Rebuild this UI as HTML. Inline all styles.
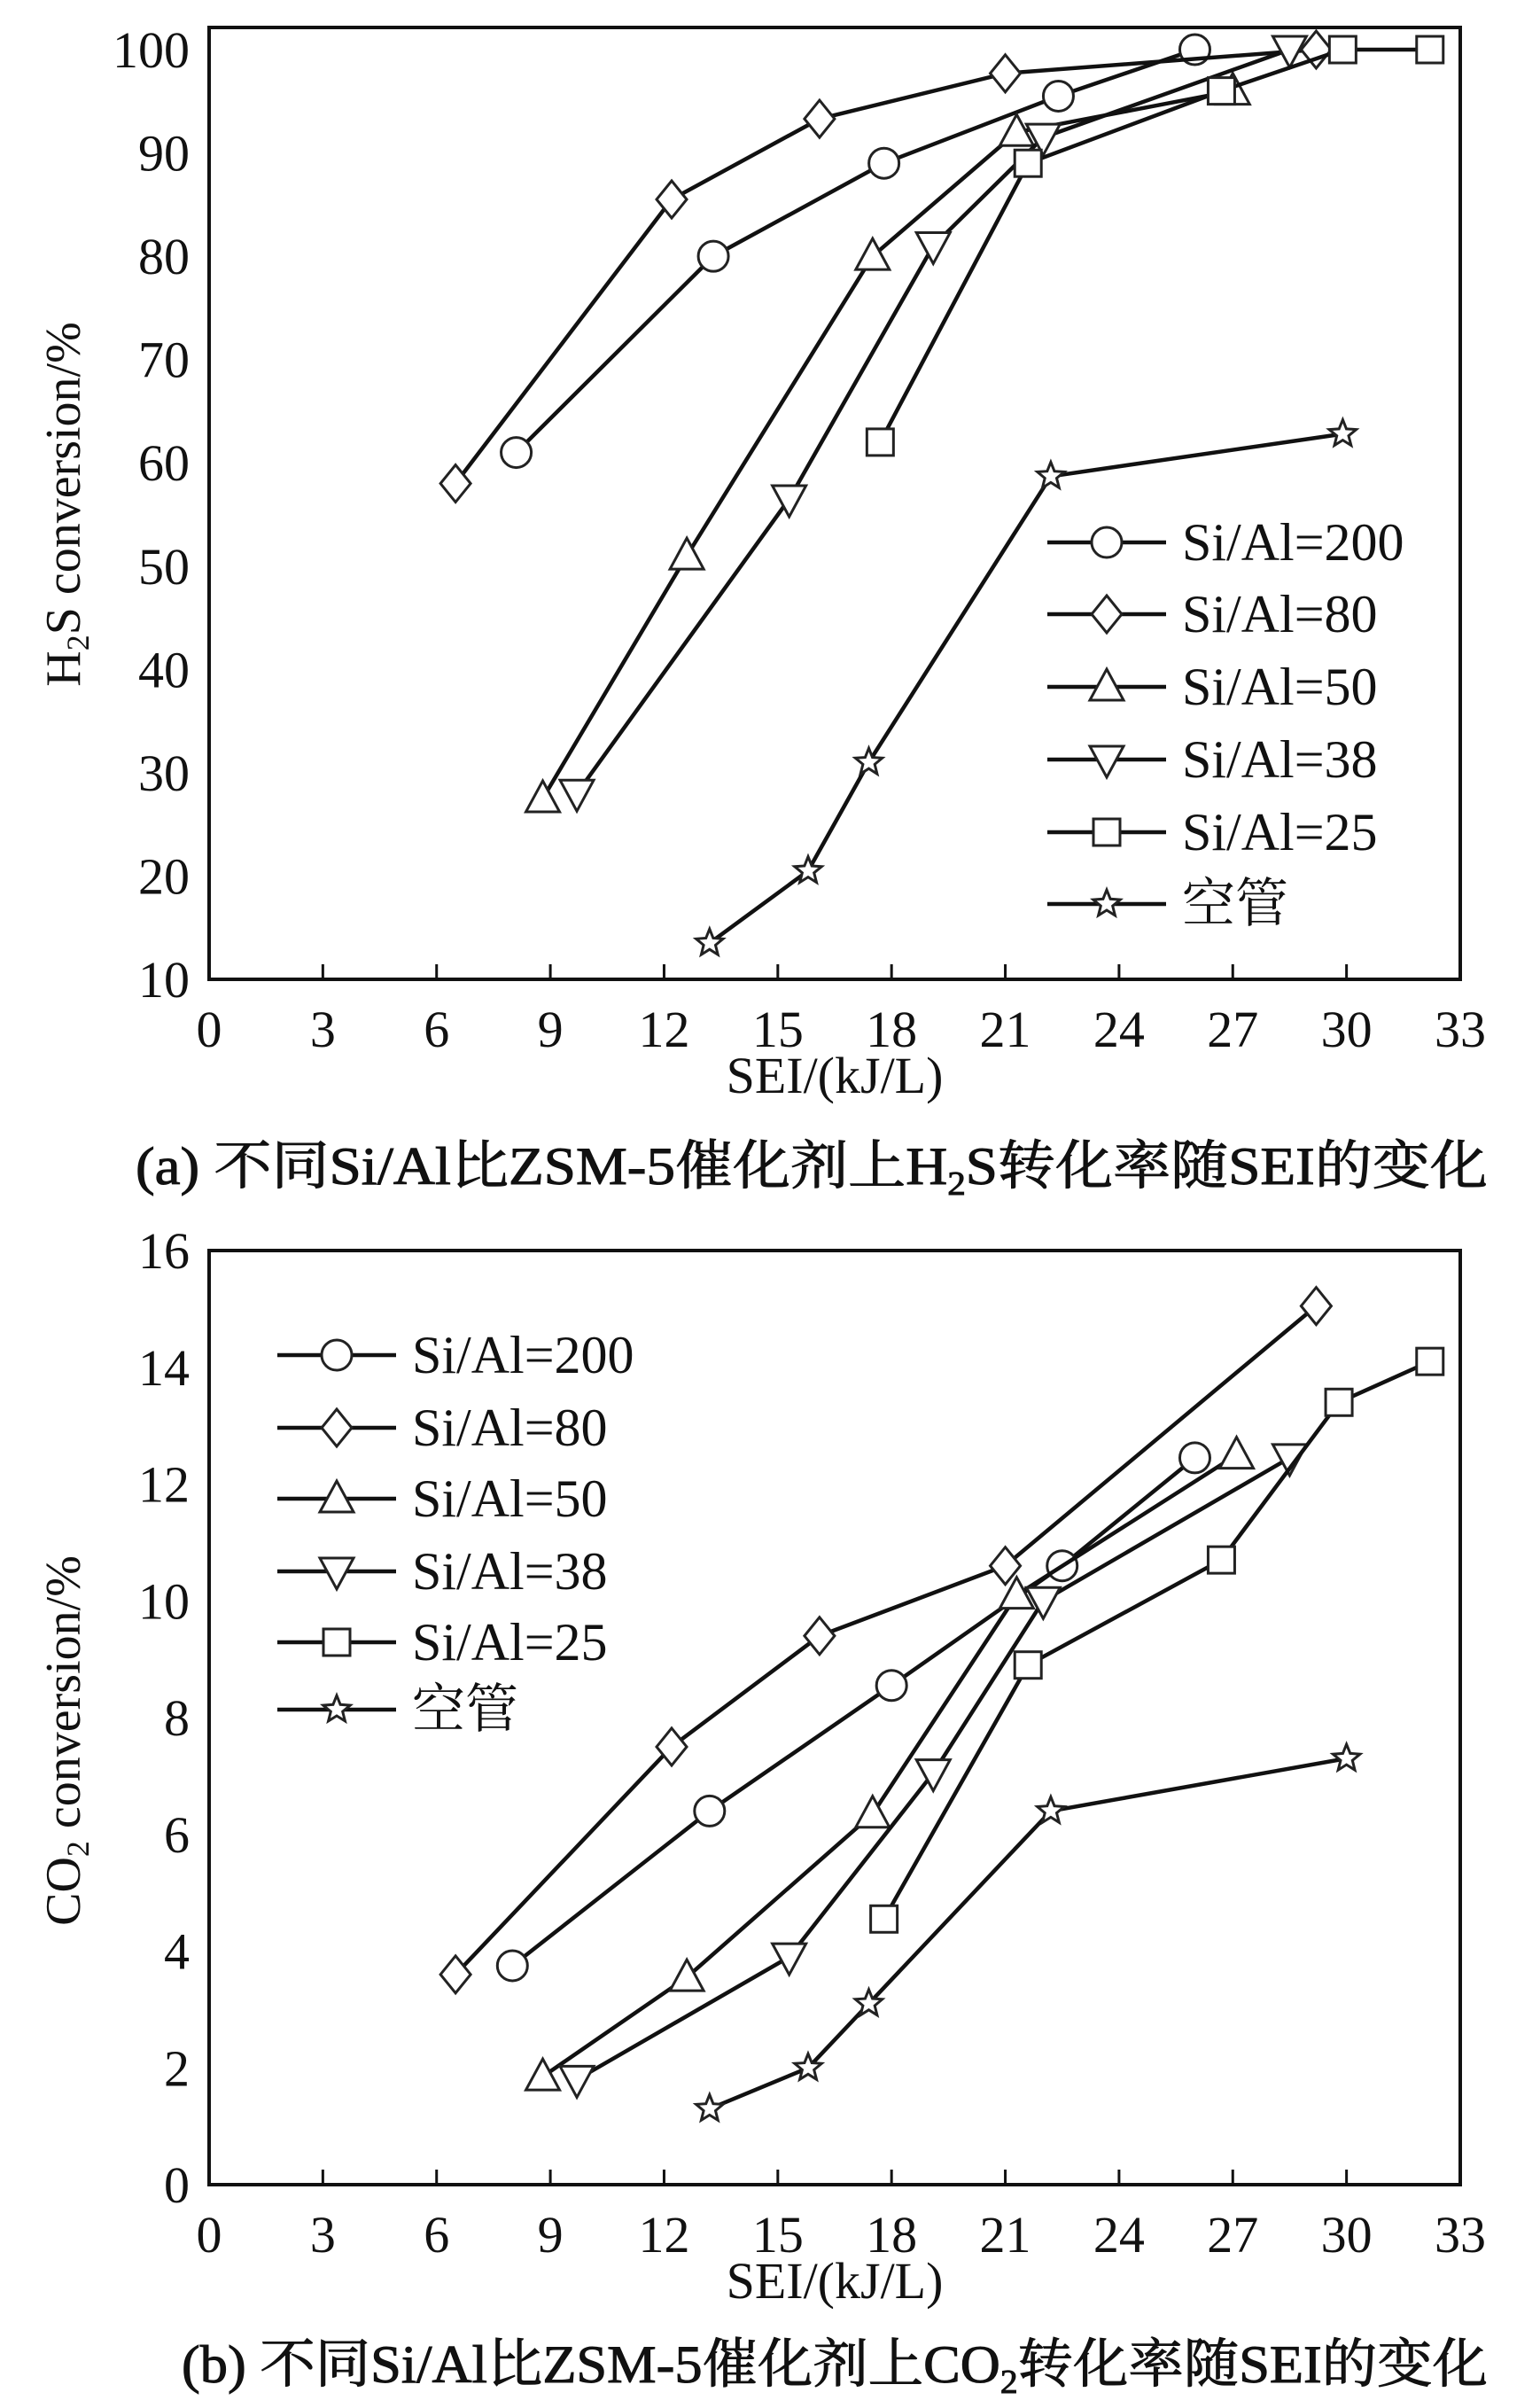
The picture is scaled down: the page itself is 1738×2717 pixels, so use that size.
<!DOCTYPE html>
<html><head><meta charset="utf-8"><style>
html,body{margin:0;padding:0;background:#fff}
svg{display:block}
text{font-family:"Liberation Serif","Times New Roman","Noto Serif CJK SC",serif;fill:#111}
</style></head><body>
<svg id="s" width="1738" height="2717" viewBox="0 0 1738 2717" font-family="'Liberation Serif','Noto Serif CJK SC',serif"></svg>
<script>
const xTicks=[0,3,6,9,12,15,18,21,24,27,30,33];
const yTicksA=[10,20,30,40,50,60,70,80,90,100];
const yTicksB=[2,4,6,8,10,12,14,16];
const seriesNames=["Si/Al=200","Si/Al=80","Si/Al=50","Si/Al=38","Si/Al=25","空管"];
const seriesMarkers=["circle","diamond","up","down","square","star"];
// chart a: H2S conversion
const a200x=[8.1,13.3,17.8,22.4,26],   a200y=[61,80,89,95.5,100];
const a80x=[6.5,12.2,16.1,21,29.2],    a80y=[58,85.5,93.3,97.7,100];
const a50x=[8.8,12.6,17.5,21.3,27],    a50y=[27.5,51,80,92,96];
const a38x=[9.7,15.3,19.1,22,28.5],    a38y=[28,56.5,81,91.5,100];
const a25x=[17.7,21.6,26.7,29.9,32.2], a25y=[62,89,96,100,100];
const aEx=[13.2,15.8,17.4,22.2,29.9],  aEy=[13.5,20.5,31,58.7,62.8];
// chart b: CO2 conversion
const b200x=[8,13.2,18,22.5,26],       b200y=[3.75,6.4,8.55,10.6,12.45];
const b80x=[6.5,12.2,16.1,21,29.2],    b80y=[3.6,7.5,9.4,10.6,15.05];
const b50x=[8.8,12.6,17.5,21.3,27.1],  b50y=[1.85,3.55,6.35,10.1,12.5];
const b38x=[9.7,15.3,19.1,22,28.5],    b38y=[1.8,3.9,7.05,10,12.45];
const b25x=[17.8,21.6,26.7,29.8,32.2], b25y=[4.55,8.9,10.7,13.4,14.1];
const bEx=[13.2,15.8,17.4,22.2,30],    bEy=[1.3,2,3.1,6.4,7.3];

const NS="http://www.w3.org/2000/svg";
const svg=document.getElementById('s');
function el(tag,attrs,parent,txt){const e=document.createElementNS(NS,tag);for(const k in attrs)e.setAttribute(k,attrs[k]);if(txt!=null)e.textContent=txt;(parent||svg).appendChild(e);return e;}

function marker(g,type,cx,cy){
  const r=17;let e;
  const st={fill:"#fff",stroke:"#222","stroke-width":3};
  if(type==="circle"){e=el('circle',Object.assign({cx:cx,cy:cy,r:r},st),g);}
  else if(type==="square"){e=el('rect',Object.assign({x:cx-15,y:cy-15,width:30,height:30},st),g);}
  else if(type==="diamond"){e=el('polygon',Object.assign({points:`${cx},${cy-21} ${cx+17},${cy} ${cx},${cy+21} ${cx-17},${cy}`},st),g);}
  else if(type==="up"){e=el('polygon',Object.assign({points:`${cx},${cy-20} ${cx+19},${cy+15} ${cx-19},${cy+15}`},st),g);}
  else if(type==="down"){e=el('polygon',Object.assign({points:`${cx},${cy+20} ${cx+19},${cy-15} ${cx-19},${cy-15}`},st),g);}
  else {let p=[];for(let i=0;i<10;i++){const a=-Math.PI/2+i*Math.PI/5;const rr=i%2?7:16;p.push((cx+rr*Math.cos(a)).toFixed(1)+","+(cy+rr*Math.sin(a)).toFixed(1));}
    e=el('polygon',Object.assign({points:p.join(" ")},st),g);}
  
  
  return e;
}

function chart(cfg){
  const g=el('g',{});
  
  
  const L=236,R=1648,T=cfg.top,B=cfg.bottom;
  const X=v=>L+(v-0)/33*(R-L);
  const Y=v=>B-(v-cfg.ymin)/(cfg.ymax-cfg.ymin)*(B-cfg.yTopVal);
  const frame=el('rect',{x:L,y:T,width:R-L,height:B-T,fill:"none",stroke:"#111","stroke-width":4},g);
  
  
  xTicks.forEach(v=>{
    const t=el('line',{x1:X(v),x2:X(v),y1:B,y2:B-17,stroke:"#111","stroke-width":3},g);
    
    
    const lb=el('text',{x:X(v),y:B+76,"font-size":58,"text-anchor":"middle"},g,String(v));
    
    
  });
  cfg.yticks.forEach(v=>{
    const lb=el('text',{x:214,y:Y(v)+20,"font-size":58,"text-anchor":"end"},g,String(v));
    
    
  });
  if(cfg.zeroLabel){const z=el('text',{x:214,y:B+20,"font-size":58,"text-anchor":"end"},g,"0");
    
    }
  const xt=el('text',{x:942,y:B+128,"font-size":58,"text-anchor":"middle"},g,"SEI/(kJ/L)");
  
  
  const yt=el('text',{x:0,y:0,"font-size":56,"text-anchor":"middle",transform:`translate(90,${cfg.ytitleY}) rotate(-90)`},g);
  
  
  el('tspan',{},yt,cfg.ytitle[0]);el('tspan',{"font-size":36,dy:10},yt,cfg.ytitle[1]);el('tspan',{dy:-10},yt,cfg.ytitle[2]);
  cfg.series.forEach((s,i)=>{
    const sg=el('g',{},g);
    
    
    const pts=s[0].map((x,j)=>X(x).toFixed(1)+","+Y(s[1][j]).toFixed(1)).join(" ");
    const pl=el('polyline',{points:pts,fill:"none",stroke:"#111","stroke-width":4.5},sg);
    
    
    s[0].forEach((x,j)=>marker(sg,seriesMarkers[i],X(x),Y(s[1][j])));
  });
  seriesNames.forEach((n,i)=>{
    const lg=el('g',{},g);
    
    
    const y=cfg.legY[i];
    el('line',{x1:cfg.legX,x2:cfg.legX+134,y1:y,y2:y,stroke:"#111","stroke-width":4.5},lg);
    marker(lg,seriesMarkers[i],cfg.legX+67,y);
    el('text',{x:cfg.legX+152,y:y+20,"font-size":60},lg,n);
  });
  const cap=el('text',{x:cfg.capX,y:cfg.capY,"font-size":60,textLength:cfg.capW,lengthAdjust:"spacingAndGlyphs",stroke:"#111","stroke-width":1},g);
  
  
  el('tspan',{},cap,cfg.cap[0]);el('tspan',{"font-size":38,dy:12},cap,cfg.cap[1]);el('tspan',{dy:-12},cap,cfg.cap[2]);
}
chart({name:"chart-h2s",top:31,bottom:1105,ymin:10,ymax:100,yTopVal:56,yticks:yTicksA,zeroLabel:false,
  ytitle:["H","2","S conversion/%"],ytitleY:569,
  series:[[a200x,a200y],[a80x,a80y],[a50x,a50y],[a38x,a38y],[a25x,a25y],[aEx,aEy]],
  legX:1182,legY:[612,693,775,857,939,1020],
  cap:["(a) 不同Si/Al比ZSM-5催化剂上H","2","S转化率随SEI的变化"],capX:153,capY:1336,capW:1526});
chart({name:"chart-co2",top:1411,bottom:2465,ymin:0,ymax:16,yTopVal:1411,yticks:yTicksB,zeroLabel:true,
  ytitle:["CO","2"," conversion/%"],ytitleY:1964,
  series:[[b200x,b200y],[b80x,b80y],[b50x,b50y],[b38x,b38y],[b25x,b25y],[bEx,bEy]],
  legX:313,legY:[1529,1611,1691,1773,1853,1929],
  cap:["(b) 不同Si/Al比ZSM-5催化剂上CO","2","转化率随SEI的变化"],capX:205,capY:2688,capW:1474});
</script>
</body></html>
